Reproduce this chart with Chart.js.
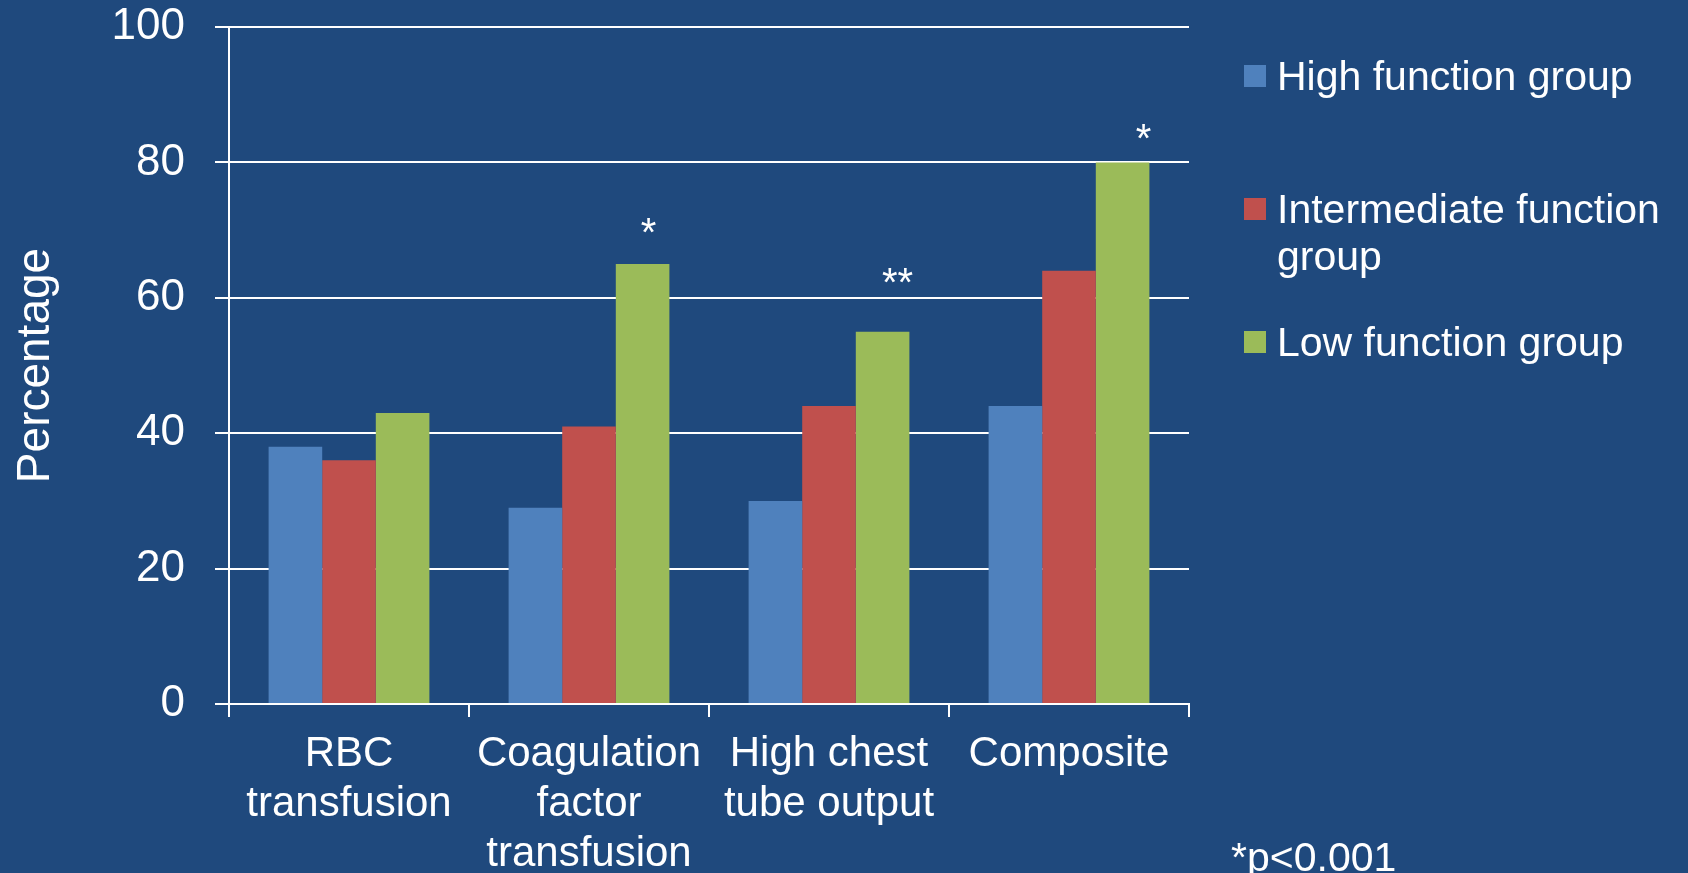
<!DOCTYPE html>
<html>
<head>
<meta charset="utf-8">
<script src="https://cdn.jsdelivr.net/npm/chart.js@4/dist/chart.umd.min.js"></script>
<style>
  html, body { margin: 0; padding: 0; background: #1F497D; overflow: hidden; }
  #wrap { width: 1688px; height: 873px; }
</style>
</head>
<body>
<div id="wrap"><canvas id="c" width="1688" height="873"></canvas></div>
<script>
// ---- data ----
const categories = [['RBC', 'transfusion'], ['Coagulation', 'factor', 'transfusion'], ['High chest', 'tube output'], ['Composite']];
const seriesNames = ['High function group', 'Intermediate function group', 'Low function group'];
const highFunction = [38, 29, 30, 44];
const intermediateFunction = [36, 41, 44, 64];
const lowFunction = [43, 65, 55, 80];
const significance = ['', '*', '**', '*'];
const yTicks = [0, 20, 40, 60, 80, 100];
const footnote = '*p<0.001';
const yTitle = 'Percentage';

// ---- styles ----
const FONT = '"Liberation Sans", Arial, sans-serif';
const colors = ['#4F81BD', '#C0504D', '#9BBB59'];

const legendPlugin = {
  id: 'customLegend',
  afterDraw(chart) {
    const ctx = chart.ctx;
    ctx.save();
    const fs = 41;
    ctx.font = fs + 'px ' + FONT;
    ctx.fillStyle = '#FFFFFF';
    ctx.textAlign = 'left';
    ctx.textBaseline = 'alphabetic';
    const boxX = 1244, box = 22, textX = 1277, firstBaseline = 90, spacing = 133, lineH = 47, maxW = 400;
    chart.data.datasets.forEach((ds, i) => {
      const base = firstBaseline + i * spacing;
      const words = ds.label.split(' ');
      const lines = [];
      let cur = '';
      words.forEach(w => {
        const t = cur ? cur + ' ' + w : w;
        if (ctx.measureText(t).width > maxW && cur) { lines.push(cur); cur = w; } else { cur = t; }
      });
      if (cur) lines.push(cur);
      ctx.fillStyle = ds.backgroundColor;
      ctx.fillRect(boxX, base - 25, box, box);
      ctx.fillStyle = '#FFFFFF';
      lines.forEach((ln, k) => ctx.fillText(ln, textX, base + k * lineH));
    });
    ctx.fillText(footnote, 1231, 871);
    ctx.restore();
  }
};

const annotPlugin = {
  id: 'annot',
  afterDatasetsDraw(chart) {
    const ctx = chart.ctx;
    const meta = chart.getDatasetMeta(2);
    const dx = [0, 6, 15, 21];
    const above = [0, 41, 59, 34];
    ctx.save();
    const fs = 40;
    ctx.font = fs + 'px ' + FONT;
    ctx.fillStyle = '#FFFFFF';
    ctx.textAlign = 'center';
    ctx.textBaseline = 'alphabetic';
    significance.forEach((s, i) => {
      if (!s) return;
      const bar = meta.data[i];
      const cy = bar.y - above[i];
      ctx.fillText(s, bar.x + dx[i], cy + 0.58 * fs);
    });
    ctx.restore();
  }
};

new Chart(document.getElementById('c'), {
  type: 'bar',
  data: {
    labels: categories,
    datasets: [
      { label: seriesNames[0], data: highFunction, backgroundColor: colors[0] },
      { label: seriesNames[1], data: intermediateFunction, backgroundColor: colors[1] },
      { label: seriesNames[2], data: lowFunction, backgroundColor: colors[2] }
    ]
  },
  options: {
    responsive: false,
    devicePixelRatio: 1,
    animation: false,
    layout: { padding: { top: 27, right: 499, left: 0, bottom: 0 } },
    plugins: { legend: { display: false }, tooltip: { enabled: false } },
    datasets: { bar: { categoryPercentage: 0.67, barPercentage: 1.0, borderWidth: 0 } },
    scales: {
      x: {
        afterFit(s) { s.height = 169; s.paddingLeft = 0; s.paddingRight = 0; },
        grid: { offset: true, drawOnChartArea: false, drawTicks: true, tickLength: 13, color: '#FFFFFF', lineWidth: 2 },
        border: { display: true, color: '#FFFFFF', width: 2 },
        ticks: { color: '#FFFFFF', padding: 12, maxRotation: 0, autoSkip: false, font: { family: FONT, size: 42, lineHeight: '50px' } }
      },
      y: {
        min: 0, max: 100,
        afterFit(s) { s.width = 229; s.paddingTop = 0; s.paddingBottom = 0; },
        afterBuildTicks(s) { s.ticks = yTicks.map(v => ({ value: v })); },
        grid: { color: '#FFFFFF', lineWidth: 2, tickLength: 14, drawTicks: true },
        border: { display: true, color: '#FFFFFF', width: 2 },
        ticks: { color: '#FFFFFF', padding: 30, font: { family: FONT, size: 44 } },
        title: { display: true, text: yTitle, color: '#FFFFFF', padding: { top: 9, bottom: 0 }, font: { family: FONT, size: 46 } }
      }
    }
  },
  plugins: [annotPlugin, legendPlugin]
});
</script>
</body>
</html>
